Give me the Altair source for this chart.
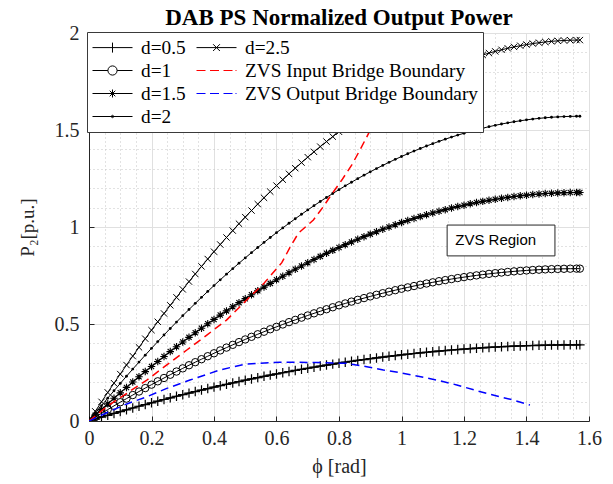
import altair as alt
import pandas as pd

SERIF = "Liberation Serif"
SANS = "Liberation Sans"

# ---------------- data ----------------
phi = [0.00, 0.02, 0.04, 0.06, 0.08, 0.10, 0.12, 0.14, 0.16, 0.18,
       0.20, 0.22, 0.24, 0.26, 0.28, 0.30, 0.32, 0.34, 0.36, 0.38,
       0.40, 0.42, 0.44, 0.46, 0.48, 0.50, 0.52, 0.54, 0.56, 0.58,
       0.60, 0.62, 0.64, 0.66, 0.68, 0.70, 0.72, 0.74, 0.76, 0.78,
       0.80, 0.82, 0.84, 0.86, 0.88, 0.90, 0.92, 0.94, 0.96, 0.98,
       1.00, 1.02, 1.04, 1.06, 1.08, 1.10, 1.12, 1.14, 1.16, 1.18,
       1.20, 1.22, 1.24, 1.26, 1.28, 1.30, 1.32, 1.34, 1.36, 1.38,
       1.40, 1.42, 1.44, 1.46, 1.48, 1.50, 1.52, 1.54, 1.56, 1.5708]

P_d05 = [0, 0.0100, 0.0198, 0.0295, 0.0390, 0.0484, 0.0577, 0.0669, 0.0760, 0.0849,
         0.0937, 0.1023, 0.1109, 0.1193, 0.1275, 0.1357, 0.1437, 0.1516, 0.1594, 0.1670,
         0.1746, 0.1820, 0.1892, 0.1963, 0.2034, 0.2102, 0.2170, 0.2236, 0.2301, 0.2365,
         0.2427, 0.2488, 0.2548, 0.2607, 0.2664, 0.2720, 0.2775, 0.2829, 0.2881, 0.2932,
         0.2982, 0.3030, 0.3077, 0.3123, 0.3168, 0.3211, 0.3253, 0.3294, 0.3333, 0.3372,
         0.3409, 0.3444, 0.3479, 0.3512, 0.3544, 0.3574, 0.3604, 0.3632, 0.3659, 0.3684,
         0.3708, 0.3731, 0.3753, 0.3774, 0.3793, 0.3811, 0.3827, 0.3842, 0.3857, 0.3869,
         0.3881, 0.3891, 0.3900, 0.3908, 0.3914, 0.3919, 0.3923, 0.3926, 0.3927, 0.3927]

P_d1 = [0, 0.0199, 0.0395, 0.0589, 0.0780, 0.0968, 0.1154, 0.1338, 0.1519, 0.1697,
        0.1873, 0.2046, 0.2217, 0.2385, 0.2550, 0.2714, 0.2874, 0.3032, 0.3187, 0.3340,
        0.3491, 0.3639, 0.3784, 0.3926, 0.4067, 0.4204, 0.4339, 0.4472, 0.4602, 0.4729,
        0.4854, 0.4976, 0.5096, 0.5213, 0.5328, 0.5440, 0.5550, 0.5657, 0.5761, 0.5863,
        0.5963, 0.6060, 0.6154, 0.6246, 0.6335, 0.6422, 0.6506, 0.6587, 0.6666, 0.6743,
        0.6817, 0.6888, 0.6957, 0.7023, 0.7087, 0.7148, 0.7207, 0.7263, 0.7317, 0.7368,
        0.7416, 0.7462, 0.7506, 0.7547, 0.7585, 0.7621, 0.7654, 0.7684, 0.7713, 0.7738,
        0.7761, 0.7782, 0.7800, 0.7815, 0.7828, 0.7838, 0.7846, 0.7851, 0.7854, 0.7854]

P_d15 = [0, 0.0299, 0.0593, 0.0884, 0.1170, 0.1452, 0.1731, 0.2007, 0.2279, 0.2546,
         0.2810, 0.3069, 0.3326, 0.3578, 0.3825, 0.4071, 0.4311, 0.4548, 0.4781, 0.5010,
         0.5237, 0.5459, 0.5676, 0.5889, 0.6101, 0.6306, 0.6509, 0.6708, 0.6903, 0.7094,
         0.7281, 0.7464, 0.7644, 0.7820, 0.7992, 0.8160, 0.8325, 0.8486, 0.8642, 0.8795,
         0.8945, 0.9090, 0.9231, 0.9369, 0.9503, 0.9633, 0.9759, 0.9881, 0.9999, 1.0115,
         1.0226, 1.0332, 1.0436, 1.0535, 1.0631, 1.0722, 1.0811, 1.0895, 1.0976, 1.1052,
         1.1124, 1.1193, 1.1259, 1.1321, 1.1378, 1.1432, 1.1481, 1.1526, 1.1570, 1.1607,
         1.1642, 1.1673, 1.1700, 1.1723, 1.1742, 1.1757, 1.1769, 1.1777, 1.1781, 1.1781]

P_d2 = [0, 0.0398, 0.0790, 0.1178, 0.1560, 0.1936, 0.2308, 0.2676, 0.3038, 0.3394,
        0.3746, 0.4092, 0.4434, 0.4770, 0.5100, 0.5428, 0.5748, 0.6064, 0.6374, 0.6680,
        0.6982, 0.7278, 0.7568, 0.7852, 0.8134, 0.8408, 0.8678, 0.8944, 0.9204, 0.9458,
        0.9708, 0.9952, 1.0192, 1.0426, 1.0656, 1.0880, 1.1100, 1.1314, 1.1522, 1.1726,
        1.1926, 1.2120, 1.2308, 1.2492, 1.2670, 1.2844, 1.3012, 1.3174, 1.3332, 1.3486,
        1.3634, 1.3776, 1.3914, 1.4046, 1.4174, 1.4296, 1.4414, 1.4526, 1.4634, 1.4736,
        1.4832, 1.4924, 1.5012, 1.5094, 1.5170, 1.5242, 1.5308, 1.5368, 1.5426, 1.5476,
        1.5522, 1.5564, 1.5600, 1.5630, 1.5656, 1.5676, 1.5692, 1.5702, 1.5708, 1.5708]

P_d25 = [0, 0.0498, 0.0988, 0.1473, 0.1950, 0.2420, 0.2885, 0.3345, 0.3798, 0.4243,
         0.4683, 0.5115, 0.5543, 0.5963, 0.6375, 0.6785, 0.7185, 0.7580, 0.7968, 0.8350,
         0.8728, 0.9098, 0.9460, 0.9815, 1.0168, 1.0510, 1.0848, 1.1180, 1.1505, 1.1823,
         1.2135, 1.2440, 1.2740, 1.3033, 1.3320, 1.3600, 1.3875, 1.4143, 1.4403, 1.4658,
         1.4908, 1.5150, 1.5385, 1.5615, 1.5838, 1.6055, 1.6265, 1.6468, 1.6665, 1.6858,
         1.7043, 1.7220, 1.7393, 1.7558, 1.7718, 1.7870, 1.8018, 1.8158, 1.8293, 1.8420,
         1.8540, 1.8655, 1.8765, 1.8868, 1.8963, 1.9053, 1.9135, 1.9210, 1.9283, 1.9345,
         1.9403, 1.9455, 1.9500, 1.9538, 1.9570, 1.9595, 1.9615, 1.9628, 1.9635, 1.9635]

red_phi = [0, 0.057, 0.121, 0.185, 0.249, 0.313, 0.377, 0.44, 0.499, 0.56, 0.617, 0.645,
           0.67, 0.718, 0.75, 0.771, 0.809, 0.841, 0.867, 0.889, 0.91, 0.93, 0.95]
red_p = [0, 0.074, 0.143, 0.211, 0.289, 0.366, 0.443, 0.52, 0.615, 0.71, 0.816, 0.90,
         0.968, 1.036, 1.105, 1.156, 1.242, 1.320, 1.397, 1.465, 1.53, 1.60, 1.68]

blue_phi = [0, 0.06, 0.121, 0.185, 0.249, 0.323, 0.419, 0.499, 0.611, 0.718, 0.825,
            0.889, 0.942, 0.995, 1.049, 1.113, 1.177, 1.241, 1.305, 1.358, 1.411]
blue_p = [0, 0.045, 0.088, 0.125, 0.168, 0.211, 0.263, 0.293, 0.303, 0.302, 0.297,
          0.280, 0.263, 0.249, 0.232, 0.211, 0.186, 0.156, 0.129, 0.108, 0.082]

x_major = [0, 0.2, 0.4, 0.6, 0.8, 1.0, 1.2, 1.4, 1.6]
x_minor = [0.05, 0.1, 0.15, 0.25, 0.3, 0.35, 0.45, 0.5, 0.55, 0.65, 0.7, 0.75,
           0.85, 0.9, 0.95, 1.05, 1.1, 1.15, 1.25, 1.3, 1.35, 1.45, 1.5, 1.55]
y_major = [0, 0.5, 1, 1.5, 2]
y_minor = [0.1, 0.2, 0.3, 0.4, 0.6, 0.7, 0.8, 0.9, 1.1, 1.2, 1.3, 1.4,
           1.6, 1.7, 1.8, 1.9]

series_names = ["d=0.5", "d=1", "d=1.5", "d=2", "d=2.5"]
series_values = [P_d05, P_d1, P_d15, P_d2, P_d25]

# legend entries (filled column by column, 2 columns)
legend_order = ["d=0.5", "d=1", "d=1.5", "d=2", "d=2.5",
                "ZVS Input Bridge Boundary", "ZVS Output Bridge Boundary"]
legend_colors = ["black", "black", "black", "black", "black", "#ff0000", "#0000ff"]

title_text = "DAB PS Normalized Output Power"
annot_text = "ZVS Region"
annot_box = dict(x0=1.146, x1=1.491, y0=0.851, y1=1.010)
annot_pos = dict(x=1.172, y=0.932)

# ---------------- styles ----------------
PLUS = "M-1,0H1M0,-1V1"
XMARK = "M-1,-1L1,1M-1,1L1,-1"
STAR = "M-1,0H1M0,-1V1M-0.7,-0.7L0.7,0.7M-0.7,0.7L0.7,-0.7"
marker_style = {
    "d=0.5": dict(shape=PLUS, size=90, filled=False, strokeWidth=1.2, lw=1.6),
    "d=1": dict(shape="circle", size=55, filled=False, strokeWidth=1.0, lw=1.0),
    "d=1.5": dict(shape=STAR, size=56, filled=False, strokeWidth=1.1, lw=1.2),
    "d=2": dict(shape="circle", size=8, filled=True, strokeWidth=0, lw=1.0),
    "d=2.5": dict(shape=XMARK, size=40, filled=False, strokeWidth=1.0, lw=1.0),
}
DASH = "M-2,0H-1.1M-0.65,0H0.25M0.7,0H1.6M1.9,0H2"
legend_paths = [
    "M-2,0H2M0,-0.5V0.5",
    "M-2,0H-0.46M0.46,0H2M0.46,0A0.46 0.46 0 1 1 -0.46,0A0.46 0.46 0 1 1 0.46,0",
    "M-2,0H2M0,-0.4V0.4M-0.28,-0.28L0.28,0.28M-0.28,0.28L0.28,-0.28",
    "M-2,0H2M0.12,0A0.12 0.12 0 1 1 -0.12,0A0.12 0.12 0 1 1 0.12,0",
    "M-2,0H2M-0.34,-0.34L0.34,0.34M-0.34,0.34L0.34,-0.34",
    DASH,
    DASH,
]

AX = "#262626"
xscale = alt.Scale(domain=[0, 1.6], nice=False, zero=False)
yscale = alt.Scale(domain=[0, 2], nice=False, zero=False)

ax_x_major = alt.Axis(orient="bottom", values=x_major, format="~g", grid=True,
                      gridColor="#e0e0e0", gridWidth=1, ticks=False, tickSize=0,
                      domain=True, domainColor=AX, domainWidth=1, labelFlush=False,
                      labelFont=SERIF, labelFontSize=20, labelColor=AX, labelPadding=7,
                      title="ϕ [rad]", titleFont=SERIF, titleFontSize=20,
                      titleFontWeight="normal", titleColor=AX,
                      titleBaseline="alphabetic", titleY=51)
ax_y_major = alt.Axis(orient="left", values=y_major, format="~g", grid=True,
                      gridColor="#e0e0e0", gridWidth=1, ticks=False, tickSize=0,
                      domain=True, domainColor=AX, domainWidth=1, labelFlush=False,
                      labelFont=SERIF, labelFontSize=20, labelColor=AX, labelPadding=10,
                      title="P₂[p.u.]", titleFont=SERIF, titleFontSize=19,
                      titleFontWeight="normal", titleColor=AX, titleAngle=270,
                      titleBaseline="alphabetic", titleAlign="center",
                      titleX=-56, titleY=194)
ax_x_minor = alt.Axis(orient="bottom", values=x_minor, grid=True, gridColor="#c4c4c4",
                      gridDash=[1, 3], gridWidth=1, ticks=False, labels=False,
                      domain=False, title=None)
ax_y_minor = alt.Axis(orient="left", values=y_minor, grid=True, gridColor="#c4c4c4",
                      gridDash=[1, 3], gridWidth=1, ticks=False, labels=False,
                      domain=False, title=None)
ax_x_ticks = alt.Axis(orient="top", offset=-388, values=x_major, grid=False, ticks=True,
                      tickSize=5, tickColor=AX, tickWidth=1, labels=False,
                      domain=False, title=None)
ax_y_ticks = alt.Axis(orient="right", offset=-500, values=y_major, grid=False, ticks=True,
                      tickSize=5, tickColor=AX, tickWidth=1, labels=False,
                      domain=False, title=None)


def enc(chart, xaxis=None, yaxis=None):
    return chart.encode(
        x=alt.X("phi:Q", scale=xscale, axis=xaxis),
        y=alt.Y("P:Q", scale=yscale, axis=yaxis),
    )


layers = []
for i, (name, vals) in enumerate(zip(series_names, series_values)):
    df = pd.DataFrame({"phi": phi, "P": vals})
    st = marker_style[name]
    line = alt.Chart(df).mark_line(color="black", strokeWidth=st["lw"], clip=True)
    pts = alt.Chart(df).mark_point(shape=st["shape"], size=st["size"], filled=st["filled"],
                                   color="black", strokeWidth=st["strokeWidth"],
                                   opacity=1, clip=True)
    if i == 0:
        layers.append(enc(line, ax_x_major, ax_y_major))
        layers.append(enc(pts, ax_x_minor, ax_y_minor))
    elif i == 1:
        layers.append(enc(line, ax_x_ticks, ax_y_ticks))
        layers.append(enc(pts))
    else:
        layers.append(enc(line))
        layers.append(enc(pts))

red_df = pd.DataFrame({"phi": red_phi, "P": red_p})
blue_df = pd.DataFrame({"phi": blue_phi, "P": blue_p})
layers.append(enc(alt.Chart(red_df).mark_line(color="#ff0000", strokeWidth=1.5,
                                              strokeDash=[8, 5], clip=True)))
layers.append(enc(alt.Chart(blue_df).mark_line(color="#0000ff", strokeWidth=1.5,
                                               strokeDash=[8, 5], clip=True)))

box_df = pd.DataFrame({"x0": [annot_box["x0"]], "x1": [annot_box["x1"]],
                       "y0": [annot_box["y0"]], "y1": [annot_box["y1"]]})
layers.append(alt.Chart(box_df).mark_rect(fill="white", stroke=AX, strokeWidth=1).encode(
    x=alt.X("x0:Q", scale=xscale, axis=None), x2="x1:Q",
    y=alt.Y("y0:Q", scale=yscale, axis=None), y2="y1:Q"))
txt_df = pd.DataFrame({"x": [annot_pos["x"]], "y": [annot_pos["y"]], "t": [annot_text]})
layers.append(alt.Chart(txt_df).mark_text(font=SANS, fontSize=15, align="left",
                                          baseline="middle", color="black").encode(
    x=alt.X("x:Q", scale=xscale, axis=None),
    y=alt.Y("y:Q", scale=yscale, axis=None), text="t:N"))

# chart title (placed above the plot area)
title_df = pd.DataFrame({"t": [title_text]})
layers.append(alt.Chart(title_df).mark_text(font=SERIF, fontSize=23, fontWeight="bold",
                                            align="center", baseline="alphabetic",
                                            color="black").encode(
    x=alt.value(250), y=alt.value(-8), text="t:N"))

leg = alt.Legend(title=None, orient="none", legendX=-2, legendY=-1, columns=2,
                 labelFont=SERIF, labelFontSize=19.3, labelColor="black", labelLimit=400,
                 labelOffset=18, symbolSize=400, symbolStrokeWidth=1, symbolOffset=10,
                 padding=5, rowPadding=2, columnPadding=8, fillColor="white",
                 strokeColor="#3a3a3a")
leg_df = pd.DataFrame({"name": legend_order})
layers.append(alt.Chart(leg_df).mark_point(filled=False, size=400, opacity=1,
                                           strokeWidth=1).encode(
    shape=alt.Shape("name:N", scale=alt.Scale(domain=legend_order, range=legend_paths),
                    legend=leg),
    color=alt.Color("name:N", scale=alt.Scale(domain=legend_order, range=legend_colors),
                    legend=leg),
).transform_filter("false"))

chart = alt.layer(*layers).resolve_axis(x="independent", y="independent").properties(
    width=500, height=388,
    padding={"left": 89, "top": 33, "right": 24, "bottom": 63},
    autosize=alt.AutoSizeParams(type="none"),
    background="white",
).configure_view(stroke="transparent")

chart.save("out.html", embed_options={"renderer": "svg", "actions": False})
